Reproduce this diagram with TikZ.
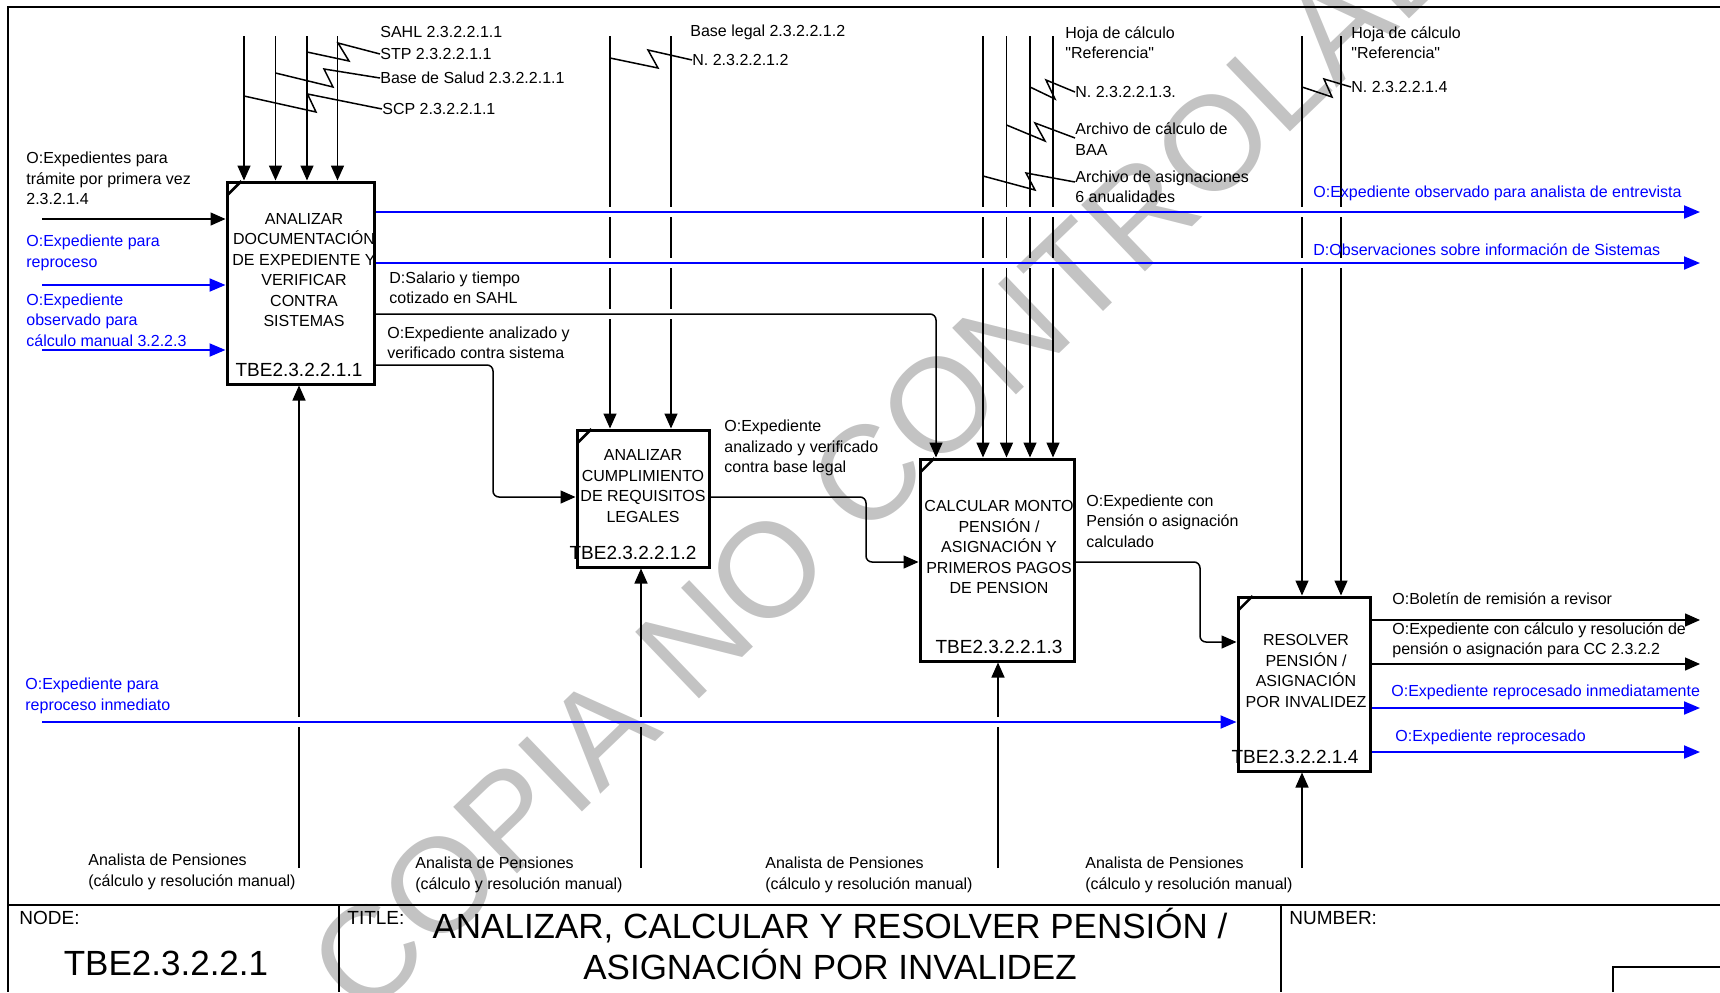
\documentclass[tikz,border=0pt]{standalone}
\usepackage{fontspec}
\setmainfont{Liberation Sans}[Ligatures=TeXOff]
\usetikzlibrary{arrows.meta,calc}
\definecolor{wm}{RGB}{195,195,195}
\definecolor{fblue}{RGB}{0,0,255}
\begin{document}
\begin{tikzpicture}[x=0.5pt,y=-0.5pt,
  lbl/.style={anchor=west,inner sep=0pt,align=left,font=\fontsize{8}{10.25}\selectfont},
  blbl/.style={lbl,text=fblue},
  box/.style={draw,line width=1.5pt,inner sep=0pt},
  btxt/.style={inner sep=0pt,align=center,font=\fontsize{8}{10.25}\selectfont},
  bid/.style={inner sep=0pt,font=\fontsize{9.5}{11}\selectfont},
  arr/.style={line width=0.75pt,-{Triangle[length=7.5pt,width=6.5pt]}},
  barr/.style={line width=1pt,draw=fblue,-{Triangle[length=8pt,width=6.5pt]}},
  ln/.style={line width=0.75pt},
  tick/.style={line width=1.25pt},
  leader/.style={line width=0.75pt},
  frame/.style={line width=1pt},
  conn/.style={arr,rounded corners=3pt},
]
\useasboundingbox (0,0) rectangle (1720,992);

% watermark
\node[rotate=43.8,text=wm,font=\fontsize{67}{67}\selectfont,inner sep=0pt] (wmk) at (918,426) {COPIA NO CONTROLADA};

% frame and title block
\coordinate (fTL) at (8,7); \coordinate (fTR) at (1720,7); \coordinate (fBL) at (8,992);
\draw[frame] (fTR) -- (fTL) -- (fBL);
\coordinate (tbL) at (8,905); \coordinate (tbR) at (1720,905);
\draw[frame] (tbL) -- (tbR);
\coordinate (d1t) at (339,905); \coordinate (d1b) at (339,992);
\coordinate (d2t) at (1281,905); \coordinate (d2b) at (1281,992);
\draw[frame] (d1t) -- (d1b); \draw[frame] (d2t) -- (d2b);
\coordinate (sb1) at (1613,992); \coordinate (sb2) at (1613,967); \coordinate (sb3) at (1720,967);
\draw[ln] (sb1) -- (sb2) -- (sb3);
\node[anchor=west,inner sep=0pt,font=\fontsize{9.5}{11}\selectfont] (tnode) at (19,918) {NODE:};
\node[inner sep=0pt,font=\fontsize{17.5}{20}\selectfont] (tnum) at (166,963) {TBE2.3.2.2.1};
\node[anchor=west,inner sep=0pt,font=\fontsize{9.5}{11}\selectfont] (ttitle) at (347,918) {TITLE:};
\node[inner sep=0pt,align=center,font=\fontsize{17.5}{20.5}\selectfont] (tmain) at (830,944) {ANALIZAR, CALCULAR Y RESOLVER PENSIÓN /\\ASIGNACIÓN POR INVALIDEZ};
\node[anchor=west,inner sep=0pt,font=\fontsize{9.5}{11}\selectfont] (tnumber) at (1289,918) {NUMBER:};

% boxes
\node[box,minimum width=73.5pt,minimum height=101pt] (b1) at (300.5,283) {};
\node[box,minimum width=66pt,minimum height=68.5pt] (b2) at (643,498.5) {};
\node[box,minimum width=77pt,minimum height=101pt] (b3) at (997,560) {};
\node[box,minimum width=66pt,minimum height=87pt] (b4) at (1304,684) {};
\foreach \b in {b1,b2,b3,b4}{
  \draw[tick] ($(\b.north west)+(1.5,15)$) -- ($(\b.north west)+(16,0.5)$);
}
\node[btxt] (b1t) at (304,270) {ANALIZAR\\DOCUMENTACIÓN\\DE EXPEDIENTE Y\\VERIFICAR\\CONTRA\\SISTEMAS};
\node[bid] (b1id) at (299,370) {TBE2.3.2.2.1.1};
\node[btxt] (b2t) at (643,486) {ANALIZAR\\CUMPLIMIENTO\\DE REQUISITOS\\LEGALES};
\node[bid] (b2id) at (633,553) {TBE2.3.2.2.1.2};
\node[btxt] (b3t) at (999,547) {CALCULAR MONTO\\PENSIÓN /\\ASIGNACIÓN Y\\PRIMEROS PAGOS\\DE PENSION};
\node[bid] (b3id) at (999,647) {TBE2.3.2.2.1.3};
\node[btxt] (b4t) at (1306,671) {RESOLVER\\PENSIÓN /\\ASIGNACIÓN\\POR INVALIDEZ};
\node[bid] (b4id) at (1295,757) {TBE2.3.2.2.1.4};

% controls box 1
\coordinate (k11) at (244,36); \coordinate (k12) at (275.5,36);
\coordinate (k13) at (307,36); \coordinate (k14) at (337.5,36);
\foreach \k in {k11,k12,k13,k14}{ \draw[arr] (\k) -- (\k |- b1.north); }
% controls box 2 (gaps at 212, 263, 314)
\coordinate (k21) at (610,36); \coordinate (k22) at (671,36);
\foreach \k in {k21,k22}{
  \draw[arr] (\k) -- (\k |- 0,207) (\k |- 0,217) -- (\k |- 0,258) (\k |- 0,268) -- (\k |- 0,309) (\k |- 0,319) -- (\k |- b2.north);
}
% controls box 3 and box 4 (gaps at 212, 263)
\coordinate (k31) at (983,36); \coordinate (k32) at (1006.5,36);
\coordinate (k33) at (1030,36); \coordinate (k34) at (1053,36);
\coordinate (k41) at (1302,36); \coordinate (k42) at (1341,36);
\foreach \k/\bb in {k31/b3,k32/b3,k33/b3,k34/b3,k41/b4,k42/b4}{
  \draw[arr] (\k) -- (\k |- 0,207) (\k |- 0,217) -- (\k |- 0,258) (\k |- 0,268) -- (\k |- \bb.north);
}
% mechanisms (gap at 722)
\coordinate (m1) at (299,868); \coordinate (m2) at (641,868);
\coordinate (m3) at (998,868); \coordinate (m4) at (1302,868);
\foreach \m/\bb in {m1/b1,m2/b2,m3/b3}{
  \draw[arr] (\m) -- (\m |- 0,727) (\m |- 0,717) -- (\m |- \bb.south);
}
\draw[arr] (m4) -- (m4 |- b4.south);

% inputs box 1
\coordinate (i11) at (42,219); \coordinate (i12) at (42,285); \coordinate (i13) at (42,350);
\draw[arr] (i11) -- (i11 -| b1.west);
\draw[barr] (i12) -- (i12 -| b1.west);
\draw[barr] (i13) -- (i13 -| b1.west);
% input box 4 blue
\coordinate (i41) at (42,722);
\draw[barr] (i41) -- (i41 -| b4.west);

% outputs box 1
\coordinate (o11) at (1700,212); \coordinate (o12) at (1700,263);
\draw[barr] (o11 -| b1.east) -- (o11);
\draw[barr] (o12 -| b1.east) -- (o12);
\coordinate (o13) at (936,314);
\draw[conn] (o13 -| b1.east) -- (o13) -- (o13 |- b3.north);
\coordinate (o14) at (493,365);
\draw[conn] (o14 -| b1.east) -- (o14) -- (493,497) -- (b2.west |- 0,497);
% box2 -> box3
\coordinate (o21) at (866,497);
\draw[conn] (o21 -| b2.east) -- (o21) -- (866,562) -- (b3.west |- 0,562);
% box3 -> box4
\coordinate (o31) at (1200,562);
\draw[conn] (o31 -| b3.east) -- (o31) -- (1200,642) -- (b4.west |- 0,642);
% outputs box 4
\coordinate (o41) at (1700,620); \coordinate (o42) at (1700,664);
\coordinate (o43) at (1700,708); \coordinate (o44) at (1700,752);
\draw[arr] (o41 -| b4.east) -- (o41);
\draw[arr] (o42 -| b4.east) -- (o42);
\draw[barr] (o43 -| b4.east) -- (o43);
\draw[barr] (o44 -| b4.east) -- (o44);

% control labels with leaders
\node[lbl] (lsahl) at (380,32) {SAHL 2.3.2.2.1.1};
\node[lbl] (lstp) at (380,54) {STP 2.3.2.2.1.1};
\node[lbl] (lbds) at (380,78) {Base de Salud 2.3.2.2.1.1};
\node[lbl] (lscp) at (382,109) {SCP 2.3.2.2.1.1};
\draw[leader] (lstp.west) -- (338,43) -- (349,61) -- (k13 |- 0,52);
\draw[leader] (lbds.west) -- (324,69) -- (333,87) -- (k12 |- 0,73);
\draw[leader] (lscp.west) -- (307.5,94) -- (316,112) -- (k11 |- 0,96);

\node[lbl] (lbl2) at (690,32) {Base legal 2.3.2.2.1.2};
\node[lbl] (ln2) at (692,60) {N. 2.3.2.2.1.2};
\draw[leader] (ln2.west) -- (648,50) -- (658,68) -- (k21 |- 0,58);

\node[lbl] (lhoja3) at (1065,42.5) {Hoja de cálculo\\"Referencia"};
\node[lbl] (ln3) at (1075,92) {N. 2.3.2.2.1.3.};
\node[lbl] (lbaa) at (1075,139) {Archivo de cálculo de\\BAA};
\node[lbl] (lasig) at (1075,187) {Archivo de asignaciones\\6 anualidades};
\draw[leader] (ln3.west) -- (1046,80) -- (1055,99) -- (k33 |- 0,87);
\draw[leader] (1075,138) -- (1035,123) -- (1045,141) -- (k32 |- 0,125);
\draw[leader] (1075,182) -- (1026,173) -- (1035,190) -- (k31 |- 0,176);

\node[lbl] (lhoja4) at (1351,42.5) {Hoja de cálculo\\"Referencia"};
\node[lbl] (ln4) at (1351,87) {N. 2.3.2.2.1.4};
\draw[leader] (ln4.west) -- (1324,79) -- (1332,97) -- (k41 |- 0,87);

% input labels
\node[lbl] (li11) at (26,178.5) {O:Expedientes para\\trámite por primera vez\\2.3.2.1.4};
\node[blbl] (li12) at (26,253) {O:Expediente para\\reproceso};
\node[blbl] (li13) at (26,320) {O:Expediente\\observado para\\cálculo manual 3.2.2.3};
\node[blbl] (li41) at (25,696) {O:Expediente para\\reproceso inmediato};

% output labels
\node[blbl] (lo11) at (1313,193) {O:Expediente observado para analista de entrevista};
\node[blbl] (lo12) at (1313,250) {D:Observaciones sobre información de Sistemas};
\node[lbl] (lo13) at (389,288) {D:Salario y tiempo\\cotizado en SAHL};
\node[lbl] (lo14) at (387,343) {O:Expediente analizado y\\verificado contra sistema};
\node[lbl] (lo21) at (724,448) {O:Expediente\\analizado y verificado\\contra base legal};
\node[lbl] (lo31) at (1086,521) {O:Expediente con\\Pensión o asignación\\calculado};
\node[lbl] (lo41) at (1392,599) {O:Boletín de remisión a revisor};
\node[lbl] (lo42) at (1392,640.5) {O:Expediente con cálculo y resolución de\\pensión o asignación para CC 2.3.2.2};
\node[blbl] (lo43) at (1391,692) {O:Expediente reprocesado inmediatamente};
\node[blbl] (lo44) at (1395,737) {O:Expediente reprocesado};

% mechanism labels
\node[lbl] (lm1) at (88,872) {Analista de Pensiones\\(cálculo y resolución manual)};
\node[lbl] (lm2) at (415,875) {Analista de Pensiones\\(cálculo y resolución manual)};
\node[lbl] (lm3) at (765,875) {Analista de Pensiones\\(cálculo y resolución manual)};
\node[lbl] (lm4) at (1085,875) {Analista de Pensiones\\(cálculo y resolución manual)};
\end{tikzpicture}
\end{document}
